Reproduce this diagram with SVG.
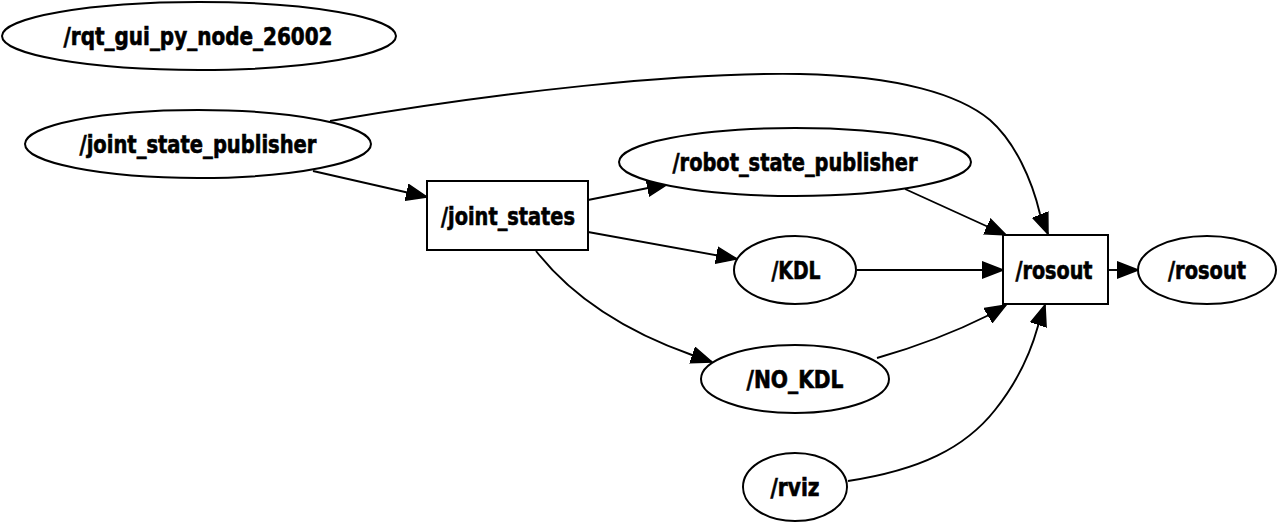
<svg xmlns="http://www.w3.org/2000/svg" width="1278" height="522" viewBox="0 0 1278 522">
<style>
.n{fill:#fff;stroke:#000;stroke-width:2}
.t{font-family:"DejaVu Sans Condensed","DejaVu Sans",sans-serif;font-stretch:condensed;font-weight:bold;font-size:24px;text-anchor:middle;fill:#000;stroke:#000;stroke-width:0.6}
.e{fill:none;stroke:#000;stroke-width:1.9;marker-end:url(#ah)}
</style>
<defs>
<marker id="ah" markerUnits="userSpaceOnUse" viewBox="0 0 22 18" refX="21" refY="9" markerWidth="22" markerHeight="18" orient="auto">
<path d="M0.5,1 L21,9 L0.5,17 Z" fill="#000" stroke="#000" stroke-width="1.5"/>
</marker>
</defs>
<rect width="1278" height="522" fill="#fff"/>
<g id="edges">
<path class="e" d="M330,121 C500,92 680,72 800,74 C900,76 960,95 990,120 C1015,142 1032,180 1040,214 L1048,234"/>
<path class="e" d="M313,171 L427,197"/>
<path class="e" d="M588,200 L668,184"/>
<path class="e" d="M588,232 L737,259"/>
<path class="e" d="M536,251 C565,288 610,326 692,355 L712,362"/>
<path class="e" d="M905,189 L1006,235"/>
<path class="e" d="M857,270 L1003,270"/>
<path class="e" d="M877,358 C912,348 955,332 989,315 L1006,305"/>
<path class="e" d="M848,481 C920,470 965,448 995,410 C1015,385 1030,355 1038,326 L1045,305"/>
<path class="e" d="M1108,270 L1138,270"/>
</g>
<g id="rqt_gui_py_node_26002">
<ellipse class="n" cx="199" cy="36" rx="197" ry="34"/>
<text class="t" x="198" y="45" textLength="269" lengthAdjust="spacingAndGlyphs">/rqt_gui_py_node_26002</text>
</g>
<g id="joint_state_publisher">
<ellipse class="n" cx="198" cy="144" rx="173" ry="34"/>
<text class="t" x="198" y="153" textLength="237" lengthAdjust="spacingAndGlyphs">/joint_state_publisher</text>
</g>
<g id="joint_states">
<rect class="n" x="427" y="181" width="161" height="69"/>
<text class="t" x="508" y="225" textLength="134" lengthAdjust="spacingAndGlyphs">/joint_states</text>
</g>
<g id="robot_state_publisher">
<ellipse class="n" cx="795" cy="162" rx="176" ry="34"/>
<text class="t" x="795" y="171" textLength="245" lengthAdjust="spacingAndGlyphs">/robot_state_publisher</text>
</g>
<g id="KDL">
<ellipse class="n" cx="795" cy="270" rx="61" ry="34"/>
<text class="t" x="796" y="279" textLength="49" lengthAdjust="spacingAndGlyphs">/KDL</text>
</g>
<g id="NO_KDL">
<ellipse class="n" cx="795" cy="379" rx="94" ry="34"/>
<text class="t" x="795" y="388" textLength="97" lengthAdjust="spacingAndGlyphs">/NO_KDL</text>
</g>
<g id="rviz">
<ellipse class="n" cx="795" cy="487" rx="52" ry="34"/>
<text class="t" x="795" y="496" textLength="49" lengthAdjust="spacingAndGlyphs">/rviz</text>
</g>
<g id="rosout_topic">
<rect class="n" x="1003" y="235" width="105" height="69"/>
<text class="t" x="1054" y="279" textLength="77" lengthAdjust="spacingAndGlyphs">/rosout</text>
</g>
<g id="rosout_node">
<ellipse class="n" cx="1207" cy="270" rx="69" ry="34"/>
<text class="t" x="1207" y="279" textLength="78" lengthAdjust="spacingAndGlyphs">/rosout</text>
</g>
</svg>
